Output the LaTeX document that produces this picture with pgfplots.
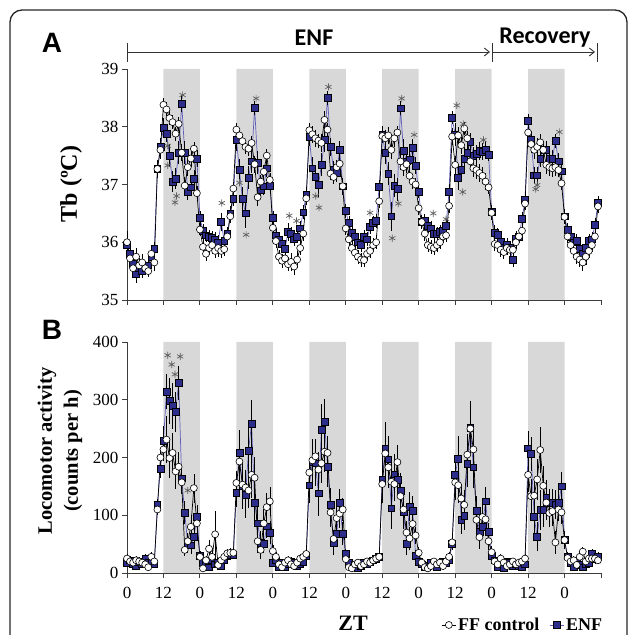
\documentclass[border=0pt]{standalone}
\usepackage{fontspec}
\setmainfont{Liberation Serif}
\newfontfamily\calib{Carlito}
\newfontfamily\arialf{Liberation Sans}
\usepackage{pgfplots}
\pgfplotsset{compat=1.18}
\usepackage{pgfplotstable}
\usetikzlibrary{arrows.meta}

\definecolor{enfblue}{RGB}{45,45,140}
\definecolor{enfline}{RGB}{95,95,185}
\definecolor{shade}{RGB}{216,216,216}
\definecolor{stargray}{RGB}{95,95,95}
\definecolor{axgray}{RGB}{60,60,60}

% Panel A: body temperature (t in h, value, sem)
\pgfplotstableread{
t ff ffe enf enfe
0 36.00 0.20 35.95 0.15
1 35.72 0.12 35.80 0.12
2 35.55 0.12 35.62 0.15
3 35.75 0.15 35.45 0.15
4 35.60 0.12 35.55 0.12
5 35.65 0.15 35.50 0.12
6 35.55 0.12 35.55 0.12
7 35.50 0.10 35.60 0.12
8 35.80 0.15 35.75 0.12
9 35.65 0.15 35.88 0.12
10 37.27 0.15 37.27 0.15
11 37.60 0.15 37.65 0.15
12 38.38 0.12 37.98 0.18
13 38.30 0.12 37.88 0.15
14 38.15 0.12 37.50 0.20
15 38.08 0.12 37.05 0.18
16 37.88 0.12 37.10 0.18
17 38.05 0.12 37.55 0.20
18 37.55 0.15 38.40 0.15
19 36.98 0.15 37.55 0.20
20 37.30 0.15 36.88 0.15
21 37.45 0.15 36.95 0.15
22 37.62 0.12 37.10 0.15
23 36.85 0.12 37.45 0.15
24 36.22 0.12 36.42 0.12
25 35.92 0.15 36.20 0.12
26 35.80 0.12 36.12 0.12
27 35.90 0.12 36.10 0.12
28 35.95 0.15 36.08 0.12
29 35.85 0.12 36.05 0.12
30 35.90 0.15 36.00 0.12
31 35.85 0.12 36.35 0.15
32 35.88 0.12 36.02 0.12
33 36.10 0.12 36.15 0.12
34 36.45 0.12 36.50 0.12
35 36.93 0.12 36.75 0.12
36 37.95 0.12 37.78 0.20
37 37.85 0.12 37.25 0.20
38 37.75 0.12 36.75 0.20
39 37.65 0.12 36.50 0.25
40 37.62 0.12 37.12 0.20
41 37.72 0.12 37.40 0.20
42 37.35 0.15 38.33 0.12
43 36.78 0.15 37.38 0.20
44 37.05 0.12 36.90 0.15
45 37.22 0.12 36.97 0.15
46 37.50 0.12 37.28 0.15
47 37.08 0.12 36.98 0.15
48 36.25 0.12 36.42 0.12
49 36.02 0.12 36.12 0.12
50 35.75 0.12 36.05 0.12
51 35.68 0.12 35.98 0.12
52 35.72 0.12 35.88 0.15
53 35.62 0.12 36.18 0.15
54 35.66 0.15 36.15 0.12
55 35.58 0.15 36.05 0.12
56 35.70 0.15 36.10 0.12
57 35.90 0.12 36.24 0.12
58 36.15 0.12 36.52 0.12
59 36.76 0.12 36.83 0.12
60 37.94 0.12 37.82 0.15
61 37.87 0.15 37.28 0.20
62 37.80 0.15 37.14 0.20
63 37.76 0.12 36.99 0.20
64 37.72 0.15 37.34 0.20
65 38.12 0.15 37.77 0.20
66 37.95 0.12 38.50 0.12
67 37.19 0.12 37.65 0.15
68 37.13 0.12 37.25 0.15
69 37.30 0.12 37.20 0.15
70 37.36 0.12 37.60 0.15
71 36.97 0.12 36.97 0.15
72 36.24 0.12 36.54 0.12
73 36.05 0.12 36.33 0.12
74 35.90 0.12 36.17 0.12
75 35.82 0.12 36.10 0.12
76 35.75 0.12 36.00 0.12
77 35.70 0.12 35.95 0.12
78 35.69 0.12 36.10 0.12
79 35.80 0.12 36.05 0.12
80 35.85 0.12 36.27 0.12
81 35.95 0.12 36.33 0.12
82 36.00 0.12 36.37 0.12
83 36.71 0.12 36.96 0.12
84 37.84 0.12 37.87 0.15
85 37.80 0.15 37.55 0.20
86 37.85 0.15 37.19 0.20
87 37.60 0.15 36.45 0.25
88 37.80 0.15 36.98 0.20
89 37.90 0.12 36.92 0.20
90 37.40 0.15 38.32 0.12
91 37.30 0.15 37.58 0.20
92 37.35 0.15 37.40 0.20
93 37.15 0.12 37.43 0.20
94 37.05 0.12 37.64 0.15
95 37.00 0.12 37.33 0.15
96 36.59 0.12 36.88 0.12
97 36.35 0.12 36.36 0.12
98 36.15 0.12 36.37 0.12
99 35.95 0.12 36.28 0.12
100 35.92 0.12 36.24 0.12
101 35.90 0.12 36.15 0.12
102 35.95 0.12 36.15 0.12
103 36.00 0.12 36.18 0.12
104 36.10 0.12 36.20 0.12
105 36.12 0.12 36.29 0.12
106 36.63 0.12 36.88 0.12
107 37.83 0.15 38.16 0.12
108 37.34 0.15 37.86 0.20
109 37.85 0.15 37.11 0.20
110 37.68 0.15 37.26 0.20
111 37.97 0.12 37.45 0.20
112 37.80 0.12 37.55 0.15
113 37.40 0.15 37.74 0.15
114 37.28 0.15 37.50 0.15
115 37.25 0.15 37.53 0.15
116 37.20 0.15 37.58 0.15
117 37.15 0.15 37.57 0.15
118 37.05 0.15 37.60 0.15
119 36.95 0.12 37.52 0.12
120 36.51 0.12 36.53 0.12
121 35.97 0.12 36.17 0.12
122 35.95 0.12 36.13 0.12
123 35.87 0.12 36.01 0.12
124 35.83 0.12 35.90 0.12
125 35.90 0.12 35.95 0.12
126 35.87 0.12 35.90 0.12
127 35.87 0.12 35.69 0.12
128 36.00 0.12 36.07 0.12
129 36.10 0.12 36.10 0.12
130 36.20 0.12 36.40 0.12
131 36.67 0.12 36.73 0.12
132 37.90 0.12 38.10 0.12
133 37.70 0.15 37.77 0.15
134 37.60 0.15 37.16 0.15
135 37.65 0.15 37.16 0.15
136 37.73 0.15 37.45 0.15
137 37.60 0.15 37.60 0.15
138 37.34 0.15 37.60 0.15
139 37.30 0.15 37.45 0.15
140 37.28 0.15 37.45 0.15
141 37.30 0.15 37.75 0.12
142 37.25 0.12 37.40 0.15
143 37.02 0.12 37.23 0.15
144 36.44 0.12 36.45 0.12
145 36.10 0.12 36.21 0.12
146 35.95 0.12 36.10 0.12
147 35.85 0.12 36.00 0.12
148 35.75 0.12 36.02 0.12
149 35.70 0.12 35.88 0.12
150 35.65 0.15 35.80 0.12
151 35.75 0.15 35.90 0.12
152 35.85 0.12 36.02 0.12
153 35.95 0.12 36.05 0.12
154 36.10 0.12 36.30 0.12
155 36.62 0.12 36.68 0.12
}\tbA

% Panel B: locomotor activity
\pgfplotstableread{
t ff ffe enf enfe
0 25 8 18 6
1 20 8 22 8
2 18 6 15 6
3 22 8 12 6
4 20 6 20 8
5 18 6 15 6
6 15 6 25 8
7 10 6 18 6
8 28 8 20 6
9 20 6 15 6
10 110 10 118 10
11 200 15 180 15
12 214 20 229 25
13 231 40 314 30
14 199 35 298 40
15 208 35 289 40
16 176 30 279 35
17 184 25 329 30
18 157 20 164 20
19 40 10 104 20
20 55 15 50 15
21 80 20 48 15
22 147 25 62 20
23 86 20 97 20
24 28 8 30 8
25 8 6 18 6
26 22 8 15 6
27 42 15 10 6
28 28 15 22 8
29 67 40 15 6
30 14 8 18 6
31 22 8 12 6
32 28 8 22 8
33 34 8 30 8
34 35 8 32 8
35 35 8 32 8
36 156 20 139 25
37 193 40 208 40
38 153 30 150 40
39 148 30 135 40
40 143 30 212 50
41 170 40 259 40
42 165 35 122 30
43 55 20 86 30
44 40 15 52 20
45 86 25 50 15
46 114 25 81 20
47 124 25 70 20
48 38 10 18 6
49 28 8 22 8
50 15 6 10 6
51 10 6 18 6
52 18 6 10 6
53 22 8 15 6
54 15 6 20 8
55 12 6 18 6
56 18 6 12 6
57 25 8 15 6
58 28 8 20 8
59 33 8 30 8
60 174 25 152 30
61 195 30 192 40
62 202 30 190 40
63 179 30 138 40
64 190 35 248 45
65 210 35 262 40
66 208 30 184 35
67 105 25 118 30
68 59 15 52 20
69 95 20 68 20
70 103 25 121 25
71 110 20 68 20
72 24 8 33 8
73 10 6 18 6
74 8 6 10 6
75 15 6 15 6
76 18 6 8 6
77 12 6 12 6
78 15 6 18 6
79 20 6 15 6
80 18 6 20 6
81 22 8 22 8
82 25 8 25 8
83 28 8 28 8
84 154 30 162 40
85 207 40 216 45
86 183 35 197 40
87 158 35 112 35
88 154 30 171 35
89 192 30 162 30
90 133 30 143 30
91 110 25 106 30
92 70 20 51 20
93 60 20 115 25
94 85 20 108 25
95 65 15 30 10
96 35 10 20 8
97 18 6 15 6
98 10 6 10 6
99 8 6 12 6
100 12 6 18 6
101 20 6 15 6
102 15 6 10 6
103 18 6 15 6
104 12 6 20 6
105 20 6 18 6
106 28 8 22 8
107 53 10 50 10
108 157 30 170 35
109 152 30 198 40
110 129 25 92 25
111 118 25 99 25
112 205 35 189 40
113 250 40 252 45
114 214 35 183 35
115 92 20 108 25
116 62 20 71 20
117 97 20 80 20
118 93 20 124 25
119 55 15 71 15
120 36 10 30 8
121 20 6 22 8
122 15 6 10 6
123 25 8 15 6
124 18 6 8 6
125 12 6 20 6
126 15 6 18 6
127 20 6 12 6
128 15 6 15 6
129 18 6 12 6
130 20 6 10 6
131 25 8 15 6
132 170 30 216 30
133 133 30 206 30
134 134 30 97 30
135 162 35 63 25
136 213 40 109 35
137 151 35 110 30
138 122 30 131 30
139 104 25 121 25
140 107 25 121 25
141 53 20 118 25
142 110 20 121 25
143 105 20 150 25
144 57 15 57 15
145 26 8 29 8
146 20 6 18 6
147 22 8 11 6
148 14 6 17 6
149 28 8 14 6
150 37 8 10 6
151 20 6 15 6
152 25 8 18 6
153 25 6 33 8
154 25 6 24 8
155 22 6 28 8
}\tbB

% significance marks
\pgfplotstableread{
t y
18.3 38.55
13.4 37.67
13.4 37.33
16.3 36.80
15.8 36.69
31.2 36.68
37.0 37.03
39.2 36.13
42.5 38.49
53.4 36.46
55.8 36.37
62.1 36.80
63.2 36.60
66.3 38.69
80.0 36.51
87.3 36.07
89.3 36.67
90.4 38.49
94.5 37.86
100.8 36.50
105.0 36.40
108.5 38.37
110.7 38.05
110.5 36.87
117.3 37.77
135.0 36.99
134.5 36.92
142.3 37.91
}\starsA

\pgfplotstableread{
t y
13.4 377
14.7 361
15.8 344
17.5 375
20.0 143
}\starsB

\pgfplotsset{
  panel/.style={
    scale only axis, width=474pt, height=231pt,
    xmin=0, xmax=156,
    axis x line*=bottom, axis y line*=left,
    axis line style={axgray, line width=0.9pt, -},
    tick style={axgray, line width=0.9pt},
    tick align=outside, major tick length=5pt,
    xtick={0,12,...,156},
    clip=false,
    /pgf/number format/assume math mode=true,
    tick label style={font=\fontsize{17}{20}\selectfont},
  },
  ffstyle/.style={black, line width=0.7pt, mark=*, mark size=3.5pt,
    mark options={fill=white, draw=black, line width=0.6pt},
    error bars/y dir=both, error bars/y explicit, error bars/error mark=none,
    error bars/error bar style={black, line width=0.6pt}},
  enfstyle/.style={enfline, line width=0.7pt, mark=square*, mark size=3.4pt,
    mark options={fill=enfblue, draw=black, line width=0.6pt},
    error bars/y dir=both, error bars/y explicit, error bars/error mark=none,
    error bars/error bar style={black, line width=0.6pt}},
  starstyle/.style={only marks, mark=asterisk, mark size=3.6pt, stargray,
    mark options={line width=0.7pt}, forget plot},
}

\begin{document}
\begin{tikzpicture}
\useasboundingbox (0pt,0pt) rectangle (629pt,635pt);
\draw[line width=1.3pt, rounded corners=12pt, black!85] (10pt,-40pt) rectangle (627pt,625pt);

% panel A
\begin{axis}[panel, at={(127pt,335pt)}, anchor=south west,
  ymin=35, ymax=39, ytick={35,36,37,38,39}, xticklabels={}]
\addplot[fill=shade, draw=none, forget plot] coordinates {
  (12,35) (12,39) (24,39) (24,35) (36,35) (36,39) (48,39) (48,35)
  (60,35) (60,39) (72,39) (72,35) (84,35) (84,39) (96,39) (96,35)
  (108,35) (108,39) (120,39) (120,35) (132,35) (132,39) (144,39) (144,35)} -- cycle;
\addplot[enfstyle] table[x=t, y=enf, y error=enfe] {\tbA};
\addplot[ffstyle] table[x=t, y=ff, y error=ffe] {\tbA};
\addplot[starstyle] table[x=t, y=y] {\starsA};
\end{axis}

% panel B
\begin{axis}[panel, at={(127pt,62pt)}, anchor=south west,
  ymin=0, ymax=400, ytick={0,100,200,300,400},
  xticklabels={0,12,0,12,0,12,0,12,0,12,0,12,0,{}},
  xticklabel style={yshift=-6pt},
  reverse legend, legend columns=2,
  legend style={at={(axis description cs:0.835,-0.225)}, anchor=center,
    draw=none, fill=none, font=\fontsize{18}{20}\selectfont\bfseries,
    /tikz/every even column/.append style={column sep=8pt}},
  legend image code/.code={\draw[mark repeat=2, mark phase=2] plot coordinates {(0pt,0pt) (7pt,0pt) (14pt,0pt)};}]
\addplot[fill=shade, draw=none, forget plot] coordinates {
  (12,0) (12,400) (24,400) (24,0) (36,0) (36,400) (48,400) (48,0)
  (60,0) (60,400) (72,400) (72,0) (84,0) (84,400) (96,400) (96,0)
  (108,0) (108,400) (120,400) (120,0) (132,0) (132,400) (144,400) (144,0)} -- cycle;
\addplot[enfstyle] table[x=t, y=enf, y error=enfe] {\tbB};
\addlegendentry{ENF}
\addplot[ffstyle] table[x=t, y=ff, y error=ffe] {\tbB};
\addlegendentry{FF control}
\addplot[starstyle] table[x=t, y=y] {\starsB};
\end{axis}

% y labels
\node[rotate=90, font=\fontsize{24}{28}\selectfont\bfseries] at (71pt,451pt) {Tb (ºC)};
\node[rotate=90, align=center, font=\fontsize{20.5}{26}\selectfont\bfseries] at (60pt,184pt) {Locomotor activity\\(counts per h)};
\node[font=\fontsize{22}{24}\selectfont\bfseries, anchor=base] at (353pt,5pt) {ZT};

% panel letters
\node[font=\arialf\fontsize{28}{30}\selectfont\bfseries] at (52pt,592pt) {A};
\node[font=\arialf\fontsize{28}{30}\selectfont\bfseries] at (52pt,305pt) {B};

% ENF / Recovery brackets
\draw[line width=0.9pt, black!80] (127pt,592pt) -- (127pt,573pt);
\draw[line width=0.9pt, black!80] (492pt,592pt) -- (492pt,573pt);
\draw[line width=0.9pt, black!80] (597pt,592pt) -- (597pt,573pt);
\draw[line width=0.9pt, black!80, -{Straight Barb[length=5pt,width=8pt]}] (127pt,583pt) -- (490pt,583pt);
\draw[line width=0.9pt, black!80, -{Straight Barb[length=5pt,width=8pt]}] (492pt,583pt) -- (595pt,583pt);
\node[font=\calib\fontsize{24}{26}\selectfont\bfseries] at (314pt,597pt) {ENF};
\node[font=\calib\fontsize{24}{26}\selectfont\bfseries] at (545pt,597pt) {Recovery};
\end{tikzpicture}
\end{document}
